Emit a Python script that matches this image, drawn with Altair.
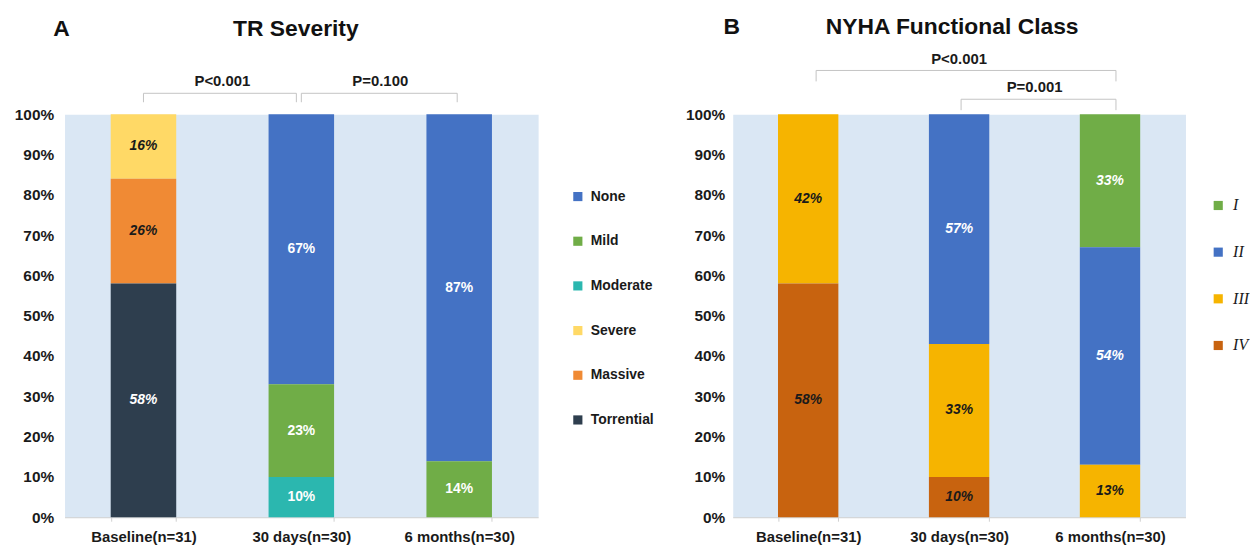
import altair as alt
import pandas as pd

times = ["Baseline(n=31)", "30 days(n=30)", "6 months(n=30)"]

# Panel A: TR severity, % of patients per grade at each time point
tr_levels = ["None", "Mild", "Moderate", "Severe", "Massive", "Torrential"]
tr_none = [0, 67, 87]
tr_mild = [0, 23, 14]
tr_moderate = [0, 10, 0]
tr_severe = [16, 0, 0]
tr_massive = [26, 0, 0]
tr_torrential = [58, 0, 0]

# Panel B: NYHA functional class, % of patients per class at each time point
nyha_levels = ["I", "II", "III", "IV"]
nyha_i = [0, 0, 33]
nyha_ii = [0, 57, 54]
nyha_iii = [42, 33, 13]
nyha_iv = [58, 10, 0]

tr_colors = ["#4472C4", "#70AD47", "#2BB7AF", "#FFD966", "#F08A34", "#2E3E4E"]
nyha_colors = ["#70AD47", "#4472C4", "#F6B400", "#C8630F"]

FONT = "Liberation Sans"
INK = "#1a1a1a"
BG = "#DAE7F4"
BRACKET = "#C4C4C4"


def long_table(levels, series, dark, italic):
    rows = []
    n = len(levels)
    for i, (lvl, vals) in enumerate(zip(levels, series)):
        for t, v in zip(times, vals):
            if v > 0:
                rows.append({
                    "time": t, "level": lvl, "value": v,
                    "order": n - i,  # first level sits on top of the stack
                    "tcolor": INK if lvl in dark else "white",
                    "italic": lvl in italic,
                })
    return pd.DataFrame(rows)


tr_df = long_table(
    tr_levels,
    [tr_none, tr_mild, tr_moderate, tr_severe, tr_massive, tr_torrential],
    dark=["Severe", "Massive"],
    italic=["Severe", "Massive", "Torrential"],
)
nyha_df = long_table(
    nyha_levels,
    [nyha_i, nyha_ii, nyha_iii, nyha_iv],
    dark=["III", "IV"],
    italic=nyha_levels,
)


def panel(df, levels, colors, width, height, pad, ylab_pad, legend,
          heading, heading_x, letter, letter_x, head_y, brackets):
    step = width / len(times)
    xscale = alt.Scale(domain=times, paddingInner=pad, paddingOuter=pad / 2)
    xaxis = alt.Axis(labelAngle=0, labelFont=FONT, labelFontSize=15,
                     labelFontWeight="bold", labelColor=INK, labelPadding=8,
                     tickBand="extent", tickSize=4, tickColor="#D0D0D0",
                     domainColor="#D0D0D0")
    yscale = alt.Scale(domain=[0, 1], nice=False)
    yaxis = alt.Axis(format=".0%", values=[k / 10 for k in range(11)],
                     ticks=False, domain=False, grid=False,
                     labelFont=FONT, labelFontSize=15.5, labelFontWeight="bold",
                     labelColor=INK, labelPadding=ylab_pad)

    # every layer carries the same axis spec so the shared axes merge cleanly
    def xenc():
        return alt.X("time:N", title=None, scale=xscale, axis=xaxis)

    def yenc(field):
        return alt.Y(field, title=None, scale=yscale, axis=yaxis)

    stacked = alt.Chart(df).transform_stack(
        stack="value", groupby=["time"], as_=["v0", "v1"],
        offset="normalize", sort=[alt.SortField("order", order="ascending")],
    )
    bars = stacked.mark_bar().encode(
        x=xenc(),
        y=yenc("v0:Q"),
        y2="v1:Q",
        color=alt.Color("level:N", scale=alt.Scale(domain=levels, range=colors),
                        legend=legend),
    )

    lab = stacked.transform_calculate(
        mid="(datum.v0 + datum.v1) / 2", txt="datum.value + '%'"
    )

    def lab_layer(style, cond):
        return lab.transform_filter(cond).mark_text(
            font=FONT, fontSize=14, fontWeight="bold", fontStyle=style
        ).encode(
            x=xenc(),
            y=yenc("mid:Q"),
            text="txt:N",
            fill=alt.Fill("tcolor:N", scale=None),
        )

    layers = [bars, lab_layer("normal", "!datum.italic"),
              lab_layer("italic", "datum.italic")]

    # significance brackets between time points
    for a, b, ptxt, line_y, tick_y, text_y, off_a, off_b in brackets:
        span = times.index(b) - times.index(a)
        one = alt.Chart(pd.DataFrame({"time": [a], "time2": [b], "p": [ptxt]}))
        layers.append(one.mark_rule(color=BRACKET, strokeWidth=1,
                                    xOffset=off_a, x2Offset=off_b).encode(
            x=xenc(), x2=alt.X2("time2"), y=alt.value(line_y)))
        layers.append(one.mark_rule(color=BRACKET, strokeWidth=1,
                                    xOffset=off_a).encode(
            x=xenc(), y=alt.value(line_y), y2=alt.value(tick_y)))
        layers.append(one.mark_rule(color=BRACKET, strokeWidth=1,
                                    xOffset=off_b).encode(
            x=alt.X("time2:N", title=None, scale=xscale, axis=xaxis),
            y=alt.value(line_y), y2=alt.value(tick_y)))
        layers.append(one.mark_text(font=FONT, fontSize=15, fontWeight="bold",
                                    color=INK, dx=step * span / 2).encode(
            x=xenc(), y=alt.value(text_y), text="p:N"))

    head = alt.Chart(pd.DataFrame({"h": [heading], "l": [letter]}))
    layers.append(head.mark_text(font=FONT, fontSize=23, fontWeight="bold",
                                 color="#111111").encode(
        x=alt.value(heading_x), y=alt.value(head_y), text="h:N"))
    layers.append(head.mark_text(font=FONT, fontSize=23, fontWeight="bold",
                                 color="#111111").encode(
        x=alt.value(letter_x), y=alt.value(head_y), text="l:N"))

    return alt.layer(*layers).properties(width=width, height=height)


legend_a = alt.Legend(
    title=None, orient="none", legendX=510, legendY=76, padding=0,
    symbolType="square", symbolSize=85, symbolStrokeWidth=0,
    labelFont=FONT, labelFontWeight="bold", labelFontSize=14,
    labelColor=INK, labelOffset=6, rowPadding=31,
)
legend_b = alt.Legend(
    title=None, orient="none", legendX=481, legendY=84, padding=0,
    symbolType="square", symbolSize=85, symbolStrokeWidth=0,
    labelFont="Liberation Serif", labelFontStyle="italic", labelFontSize=16,
    labelColor=INK, labelOffset=7, rowPadding=31,
)

panel_a = panel(
    tr_df, tr_levels, tr_colors, 477, 406, 0.585, 11, legend_a,
    "TR Severity", 233, "A", -3, -86,
    [("Baseline(n=31)", "30 days(n=30)", "P<0.001", -21, -12, -33, 0, -5),
     ("30 days(n=30)", "6 months(n=30)", "P=0.100", -21, -12, -33, 0, -2)],
)
panel_b = panel(
    nyha_df, nyha_levels, nyha_colors, 456, 406, 0.6, 8, legend_b,
    "NYHA Functional Class", 221, "B", -1, -88,
    [("Baseline(n=31)", "6 months(n=30)", "P<0.001", -44, -33, -56, 8, 6),
     ("30 days(n=30)", "6 months(n=30)", "P=0.001", -15, -4, -27, 2, 6)],
)

chart = (
    alt.hconcat(panel_a, panel_b, spacing=196, bounds="flush")
    .resolve_scale(color="independent", x="independent", y="independent")
    .resolve_legend(color="independent")
    .configure_view(fill=BG, stroke="transparent")
    .properties(padding={"left": 13, "top": 13, "right": 0, "bottom": 0},
                background="white")
)

chart.save("out.html", embed_options={"renderer": "svg", "actions": False})
